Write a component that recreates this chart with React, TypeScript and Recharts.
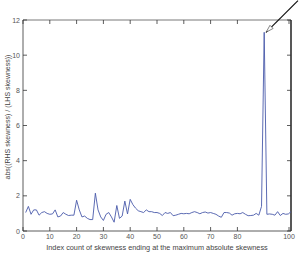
import {
  LineChart,
  Line,
  XAxis,
  YAxis,
  ReferenceLine,
} from "recharts";

// ratio per window index (1..100)
const INDEX = Array.from({ length: 100 }, (_, i) => i + 1);
const RATIO = [
  1.05, 1.4, 0.95, 1.2, 1.2, 0.9, 1.05, 1.1, 1.0, 0.95,
  0.97, 1.2, 0.8, 0.85, 1.05, 0.95, 0.88, 0.9, 0.9, 1.75,
  1.2, 0.8, 0.85, 0.72, 0.65, 0.65, 2.15, 1.2, 0.8, 0.6,
  0.95, 1.05, 0.8, 0.5, 1.45, 0.72, 0.85, 1.7, 0.97, 1.8,
  1.5, 1.3, 1.15, 1.1, 1.05, 1.2, 1.1, 1.1, 1.05, 1.05,
  1.0, 0.88, 1.05, 1.0, 1.05, 0.87, 0.9, 0.95, 1.0, 0.98,
  1.0, 0.98, 1.05, 1.1, 1.05, 0.98, 1.05, 1.08, 1.02, 1.05,
  1.0, 0.95, 0.85, 0.78, 1.05, 1.05, 1.02, 0.9, 0.98, 1.0,
  0.98, 1.05, 0.95, 0.87, 0.88, 0.9, 1.0, 0.9, 1.4, 11.3,
  0.95, 0.97, 0.95, 0.9, 1.1, 0.88, 1.0, 0.95, 0.97, 1.1,
];
const X_TICKS = [0, 10, 20, 30, 40, 50, 60, 70, 80, 90, 100];
const Y_TICKS = [0, 2, 4, 6, 8, 10, 12];
// arrow annotation: tail (off the top right corner) -> tip at the spike
const ARROW = [
  { x: 102.6, y: 13.1 },
  { x: 90.7, y: 11.3 },
];

const data = INDEX.map((i, k) => ({ i, v: RATIO[k] }));

const W = 301;
const H = 255;
const M = { top: 20, right: 10, left: 0, bottom: 0 };
const Y_W = 23;
const X_H = 24;
const PLOT_TOP = M.top;
const PLOT_BOTTOM = H - X_H;
const PLOT_LEFT = Y_W;
const PLOT_RIGHT = W - M.right;
const FONT = "'Liberation Sans', Arial, sans-serif";

function XTick(props: any) {
  const { x, payload } = props;
  return (
    <g>
      <line x1={x} y1={PLOT_BOTTOM} x2={x} y2={PLOT_BOTTOM - 4} stroke="#333" strokeWidth={0.8} />
      <line x1={x} y1={PLOT_TOP} x2={x} y2={PLOT_TOP + 4} stroke="#333" strokeWidth={0.8} />
      <text x={x} y={PLOT_BOTTOM + 8} textAnchor="middle" fontSize={7} fill="#555" fontFamily={FONT}>
        {payload.value}
      </text>
    </g>
  );
}

function YTick(props: any) {
  const { y, payload } = props;
  return (
    <g>
      <line x1={PLOT_LEFT} y1={y} x2={PLOT_LEFT + 4} y2={y} stroke="#333" strokeWidth={0.8} />
      <line x1={PLOT_RIGHT} y1={y} x2={PLOT_RIGHT - 4} y2={y} stroke="#333" strokeWidth={0.8} />
      <text x={PLOT_LEFT - 3} y={y + 2.5} textAnchor="end" fontSize={7} fill="#555" fontFamily={FONT}>
        {payload.value}
      </text>
    </g>
  );
}

function XLabel() {
  return (
    <text x={(PLOT_LEFT + PLOT_RIGHT) / 2} y={H - 5} textAnchor="middle" fontSize={7.3} fill="#444" fontFamily={FONT}>
      Index count of skewness ending at the maximum absolute skewness
    </text>
  );
}

function YLabel() {
  const cy = 117;
  return (
    <text
      x={10}
      y={cy}
      transform={`rotate(-90 10 ${cy})`}
      textAnchor="middle"
      fontSize={7}
      fill="#444"
      fontFamily={FONT}
    >
      abs((RHS skewness) / (LHS skewness))
    </text>
  );
}

function Arrow(props: any) {
  const { x1, y1, x2, y2 } = props;
  const ang = Math.atan2(y2 - y1, x2 - x1);
  const len = 8;
  const spread = 0.28;
  const ax = x2 - len * Math.cos(ang - spread);
  const ay = y2 - len * Math.sin(ang - spread);
  const bx = x2 - len * Math.cos(ang + spread);
  const by = y2 - len * Math.sin(ang + spread);
  return (
    <g>
      <line x1={x1} y1={y1} x2={x2} y2={y2} stroke="#111" strokeWidth={1.2} />
      <polygon points={`${x2},${y2} ${ax},${ay} ${bx},${by}`} fill="#fff" stroke="#333" strokeWidth={0.6} />
    </g>
  );
}

export default function App() {
  return (
    <div style={{ position: "absolute", left: 0, top: 0, width: W, height: H, background: "#fff" }}>
      <LineChart width={W} height={H} data={data} margin={M}>
        <XAxis
          dataKey="i"
          type="number"
          domain={[0, 100]}
          ticks={X_TICKS}
          height={X_H}
          tickLine={false}
          tick={<XTick />}
          axisLine={{ stroke: "#333", strokeWidth: 0.8 }}
          label={<XLabel />}
        />
        <YAxis
          type="number"
          domain={[0, 12]}
          ticks={Y_TICKS}
          width={Y_W}
          tickLine={false}
          tick={<YTick />}
          axisLine={{ stroke: "#333", strokeWidth: 0.8 }}
          label={<YLabel />}
        />
        <ReferenceLine y={12} stroke="#555" strokeWidth={0.8} ifOverflow="visible" />
        <ReferenceLine x={100} stroke="#111" strokeWidth={1.4} ifOverflow="visible" />
        <Line
          dataKey="v"
          stroke="#4a5aaa"
          strokeWidth={0.9}
          dot={false}
          isAnimationActive={false}
        />
        <ReferenceLine
          segment={ARROW}
          ifOverflow="visible"
          shape={<Arrow />}
        />
      </LineChart>
    </div>
  );
}
